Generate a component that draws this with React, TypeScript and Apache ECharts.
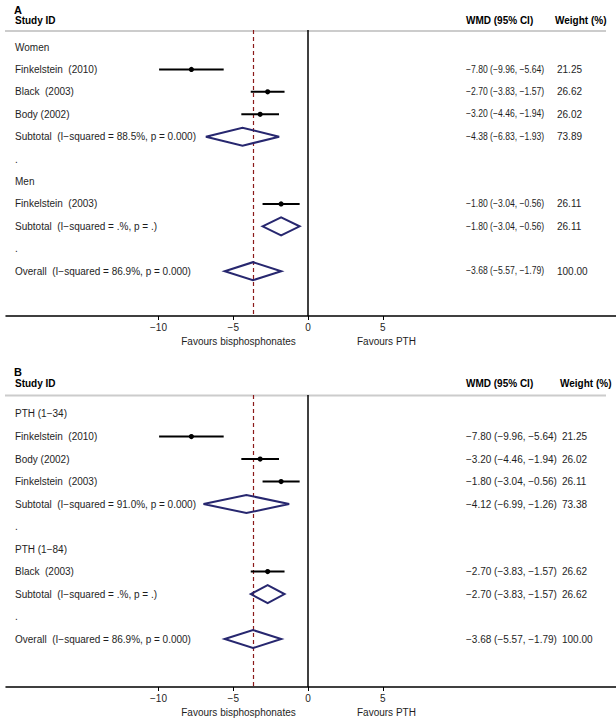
import React, { useEffect, useRef } from "react";
import * as echarts from "echarts";

// ---------- Panel A: stratified by sex ----------
const labelsA = [
  "Women",
  "Finkelstein  (2010)",
  "Black  (2003)",
  "Body (2002)",
  "Subtotal  (I\u2212squared = 88.5%, p = 0.000)",
  ".",
  "Men",
  "Finkelstein  (2003)",
  "Subtotal  (I\u2212squared = .%, p = .)",
  ".",
  "Overall  (I\u2212squared = 86.9%, p = 0.000)",
];
const kindsA = ["group", "study", "study", "study", "pooled", "blank", "group", "study", "pooled", "blank", "pooled"];
const estA = [null, -7.8, -2.7, -3.2, -4.38, null, null, -1.8, -1.8, null, -3.68];
const lowA = [null, -9.96, -3.83, -4.46, -6.83, null, null, -3.04, -3.04, null, -5.57];
const highA = [null, -5.64, -1.57, -1.94, -1.93, null, null, -0.56, -0.56, null, -1.79];
const weightA = [null, 21.25, 26.62, 26.02, 73.89, null, null, 26.11, 26.11, null, 100.0];

// ---------- Panel B: stratified by PTH type ----------
const labelsB = [
  "PTH (1\u221234)",
  "Finkelstein  (2010)",
  "Body (2002)",
  "Finkelstein  (2003)",
  "Subtotal  (I\u2212squared = 91.0%, p = 0.000)",
  ".",
  "PTH (1\u221284)",
  "Black  (2003)",
  "Subtotal  (I\u2212squared = .%, p = .)",
  ".",
  "Overall  (I\u2212squared = 86.9%, p = 0.000)",
];
const kindsB = ["group", "study", "study", "study", "pooled", "blank", "group", "study", "pooled", "blank", "pooled"];
const estB = [null, -7.8, -3.2, -1.8, -4.12, null, null, -2.7, -2.7, null, -3.68];
const lowB = [null, -9.96, -4.46, -3.04, -6.99, null, null, -3.83, -3.83, null, -5.57];
const highB = [null, -5.64, -1.94, -0.56, -1.26, null, null, -1.57, -1.57, null, -1.79];
const weightB = [null, 21.25, 26.02, 26.11, 73.38, null, null, 26.62, 26.62, null, 100.0];

const xTicks = [-10, -5, 0, 5];
const overallEffect = -3.68;
const xLabelLeft = "Favours bisphosphonates";
const xLabelRight = "Favours PTH";

const FONT = "'Liberation Sans', Arial, Helvetica, sans-serif";
const TXT = "#1e1e1e";
const NAVY = "#27276f";
const DASH_RED = "#8b1a1a";

const fmt = (v: number) => v.toFixed(2).replace("-", "\u2212");

function buildPanel(
  idx: number,
  labels: string[],
  kinds: string[],
  est: (number | null)[],
  low: (number | null)[],
  high: (number | null)[],
  weight: (number | null)[],
  weightX: number,
  valueScaleX: number
) {
  const labelData = labels.map((_, i) => [0, i]);
  const markData: any[] = [];
  est.forEach((e, i) => {
    if (e !== null) markData.push([e, low[i], high[i], i, weight[i], kinds[i] === "pooled" ? 1 : 0]);
  });

  const labelSeries = {
    type: "custom",
    xAxisIndex: idx,
    yAxisIndex: idx,
    data: labelData,
    encode: { x: 0, y: 1 },
    silent: true,
    renderItem: (params: any, api: any) => {
      const i = params.dataIndex;
      const y = api.coord([0, api.value(1)])[1];
      return {
        type: "text",
        style: {
          text: labels[i],
          x: 15,
          y,
          fill: TXT,
          fontSize: 10,
          fontFamily: FONT,
          verticalAlign: "middle",
          align: "left",
        },
      };
    },
    markLine: {
      silent: true,
      symbol: "none",
      label: { show: false },
      data: [
        { xAxis: 0, lineStyle: { color: "#000", type: "solid", width: 1.5 } },
        { xAxis: overallEffect, lineStyle: { color: DASH_RED, type: [4, 3], width: 1.2 } },
      ],
    },
  };

  const markSeries = {
    type: "custom",
    xAxisIndex: idx,
    yAxisIndex: idx,
    data: markData,
    encode: { x: [0, 1, 2], y: 3 },
    silent: true,
    z: 5,
    renderItem: (params: any, api: any) => {
      const e = api.value(0);
      const lo = api.value(1);
      const hi = api.value(2);
      const row = api.value(3);
      const w = api.value(4);
      const pooled = api.value(5) === 1;
      const [xe, y] = api.coord([e, row]);
      const xl = api.coord([lo, row])[0];
      const xh = api.coord([hi, row])[0];
      const children: any[] = [];
      if (pooled) {
        children.push({
          type: "polygon",
          shape: { points: [[xl, y], [xe, y - 9], [xh, y], [xe, y + 9]] },
          style: { fill: "none", stroke: NAVY, lineWidth: 2 },
        });
      } else {
        children.push({
          type: "line",
          shape: { x1: xl, y1: y, x2: xh, y2: y },
          style: { stroke: "#000", lineWidth: 2 },
        });
        children.push({
          type: "circle",
          shape: { cx: xe, cy: y, r: 2.6 },
          style: { fill: "#000" },
        });
      }
      children.push({
        type: "text",
        x: 466,
        y,
        scaleX: valueScaleX,
        style: {
          text: `${fmt(e)} (${fmt(lo)}, ${fmt(hi)})`,
          x: 0,
          y: 0,
          fill: TXT,
          fontSize: 10,
          fontFamily: FONT,
          verticalAlign: "middle",
          align: "left",
        },
      });
      children.push({
        type: "text",
        style: {
          text: w.toFixed(2),
          x: weightX,
          y,
          fill: TXT,
          fontSize: 10,
          fontFamily: FONT,
          verticalAlign: "middle",
          align: "left",
        },
      });
      return { type: "group", children };
    },
  };
  return [labelSeries, markSeries];
}

function xAxisFor(idx: number) {
  return {
    type: "value",
    gridIndex: idx,
    min: -20.2,
    max: 20.6,
    splitLine: { show: false },
    axisLine: { show: true, onZero: false, lineStyle: { color: "#000", width: 1.5 } },
    axisTick: { show: true, customValues: xTicks, length: 4, lineStyle: { color: "#000", width: 1 } },
    axisLabel: {
      show: true,
      customValues: xTicks,
      formatter: (v: number) => String(v).replace("-", "\u2212"),
      fontSize: 10,
      fontFamily: FONT,
      color: TXT,
      margin: 6,
    },
  };
}

function headerGraphics(letter: string, top: number, lineY: number, axisY: number, weightHeadX: number) {
  const t = (text: string, x: number, y: number, opts: any = {}) => ({
    type: "text",
    silent: true,
    style: {
      text,
      x,
      y,
      fill: TXT,
      fontSize: 10,
      fontFamily: FONT,
      verticalAlign: "middle",
      align: "left",
      ...opts,
    },
  });
  return [
    t(letter, 14, top, { fontSize: 11, fontWeight: "bold", fill: "#000" }),
    t("Study ID", 15, top + 11, { fontWeight: "bold", fill: "#000" }),
    t("WMD (95% CI)", 466, top + 11, { fontWeight: "bold", fill: "#000" }),
    t("Weight (%)", weightHeadX, top + 11, { fontWeight: "bold", fill: "#000" }),
    {
      type: "line",
      silent: true,
      shape: { x1: 5, y1: lineY, x2: 606, y2: lineY },
      style: { stroke: "#cccccc", lineWidth: 2 },
    },
    t(xLabelLeft, 238.5, axisY + 25, { align: "center" }),
    t(xLabelRight, 357, axisY + 25),
  ];
}

export default function App() {
  const ref = useRef<HTMLDivElement>(null);
  useEffect(() => {
    if (!ref.current) return;
    const chart = echarts.init(ref.current, undefined, { renderer: "svg" });
    const option: any = {
      animation: false,
      backgroundColor: "#ffffff",
      grid: [
        { left: 6, right: 0, top: 30, bottom: 719 - 316 },
        { left: 6, right: 0, top: 395, bottom: 719 - 687 },
      ],
      xAxis: [xAxisFor(0), xAxisFor(1)],
      yAxis: [
        { type: "value", gridIndex: 0, inverse: true, min: -0.76, max: 12.0, show: false },
        { type: "value", gridIndex: 1, inverse: true, min: -0.844, max: 12.13, show: false },
      ],
      series: [
        ...buildPanel(0, labelsA, kindsA, estA, lowA, highA, weightA, 557, 0.86),
        ...buildPanel(1, labelsB, kindsB, estB, lowB, highB, weightB, 562, 1),
      ],
      graphic: [
        ...headerGraphics("A", 9.5, 31, 316, 555),
        ...headerGraphics("B", 372, 395.5, 687, 560),
      ],
    };
    chart.setOption(option);
    return () => chart.dispose();
  }, []);
  return (
    <div
      ref={ref}
      style={{ position: "absolute", left: 0, top: 0, width: 616, height: 719, background: "#fff" }}
    />
  );
}
